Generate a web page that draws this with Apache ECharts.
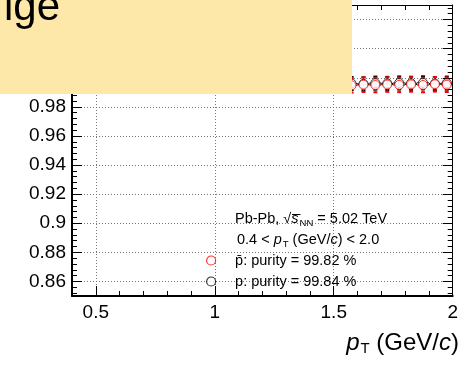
<!DOCTYPE html>
<html>
<head>
<meta charset="utf-8">
<script src="https://cdn.jsdelivr.net/npm/echarts@6/dist/echarts.min.js"></script>
<style>
  html, body { margin: 0; padding: 0; background: #fff; }
  #chart { width: 461px; height: 365px; }
</style>
</head>
<body>
<div id="chart"></div>
<script>
// pT bin centres (GeV/c) and half bin width
const ptBins = [1.575, 1.625, 1.675, 1.725, 1.775, 1.825, 1.875, 1.925, 1.975];
const binHalfWidth = 0.025;

// proton purity per bin with uncertainties
const protonVals = [0.9960, 0.9958, 0.9963, 0.9961, 0.9964, 0.9962, 0.9965, 0.9960, 0.9963];
const protonErrs = [0.0045, 0.0045, 0.0045, 0.0045, 0.0045, 0.0045, 0.0045, 0.0045, 0.0045];

// antiproton purity per bin with uncertainties
const antiprotonVals = [0.9948, 0.9952, 0.9950, 0.9953, 0.9951, 0.9954, 0.9950, 0.9955, 0.9952];
const antiprotonErrs = [0.0050, 0.0050, 0.0050, 0.0050, 0.0050, 0.0050, 0.0050, 0.0050, 0.0050];

// axis ranges and tick labels
const xRange = [0.4, 2.0];
const yRange = [0.85, 1.05];
const xMajorTicks = [0.5, 1.0, 1.5, 2.0];
const yMajorTicks = [0.86, 0.88, 0.90, 0.92, 0.94, 0.96, 0.98, 1.00, 1.02, 1.04];

const antiprotonLabel = 'p\u0304: purity = 99.82 %';
const protonLabel = 'p: purity = 99.84 %';

// minor tick positions between the labelled ticks
const xMinorTicks = [];
for (let i = 5; i < 20; i++) { if (i % 5 !== 0) xMinorTicks.push(+(i / 10).toFixed(1)); }
const yMinorTicks = [];
for (let i = 213; i <= 262; i++) { if (i % 5 !== 0) yMinorTicks.push(+(i * 0.004).toFixed(3)); }

const FONT = '"Liberation Sans", Arial, Helvetica, sans-serif';
const RED = '#ff0000';
const GRID = { type: [1, 2], color: '#777', width: 1 };

function axisBase(kind, position, ticks, len, opts) {
  const range = kind === 'x' ? xRange : yRange;
  return Object.assign({
    type: 'value', gridIndex: 0, position: position,
    min: range[0], max: range[1],
    axisLine: { show: false },
    axisTick: { show: true, inside: true, length: len, customValues: ticks,
                lineStyle: { color: '#000', width: 1 } },
    axisLabel: { show: false },
    splitLine: { show: false }
  }, opts || {});
}

const fmt = v => (+v.toFixed(2)).toString();

const xAxes = [
  axisBase('x', 'bottom', xMajorTicks, 10, {
    axisLine: { show: true, onZero: false, lineStyle: { color: '#000', width: 2 } },
    axisLabel: { show: true, customValues: xMajorTicks, formatter: fmt, margin: 7,
                 color: '#000', fontSize: 19, fontFamily: FONT },
    splitLine: { show: true, lineStyle: GRID }
  }),
  axisBase('x', 'bottom', xMinorTicks, 5),
  axisBase('x', 'top', xMajorTicks, 10, {
    axisLine: { show: true, onZero: false, lineStyle: { color: '#000', width: 1 } }
  }),
  axisBase('x', 'top', xMinorTicks, 5)
];

const yAxes = [
  axisBase('y', 'left', yMajorTicks, 10, {
    axisLine: { show: true, onZero: false, lineStyle: { color: '#000', width: 2 } },
    axisLabel: { show: true, customValues: yMajorTicks, formatter: fmt, margin: 6,
                 color: '#000', fontSize: 19, fontFamily: FONT },
    splitLine: { show: true, lineStyle: GRID }
  }),
  axisBase('y', 'left', yMinorTicks, 5),
  axisBase('y', 'right', yMajorTicks, 10, {
    axisLine: { show: true, onZero: false, lineStyle: { color: '#000', width: 1 } }
  }),
  axisBase('y', 'right', yMinorTicks, 5)
];

// vertical uncertainty with caps plus the horizontal bin-width bar
function errorBars(color) {
  return function (params, api) {
    const x = api.value(0), y = api.value(1), e = api.value(2);
    const c = api.coord([x, y]);
    const top = api.coord([x, y + e]);
    const bot = api.coord([x, y - e]);
    const l = api.coord([x - binHalfWidth, y]);
    const r = api.coord([x + binHalfWidth, y]);
    const cap = 2;
    const st = { stroke: color, lineWidth: 1 };
    const capSt = { stroke: color, lineWidth: 2 };
    return {
      type: 'group',
      children: [
        { type: 'line', shape: { x1: c[0], y1: top[1], x2: c[0], y2: bot[1] }, style: st },
        { type: 'line', shape: { x1: c[0] - cap, y1: top[1], x2: c[0] + cap, y2: top[1] }, style: capSt },
        { type: 'line', shape: { x1: c[0] - cap, y1: bot[1], x2: c[0] + cap, y2: bot[1] }, style: capSt },
        { type: 'line', shape: { x1: l[0], y1: c[1], x2: r[0], y2: c[1] }, style: { stroke: '#000', lineWidth: 1 } }
      ]
    };
  };
}

const protonData = ptBins.map((x, i) => [x, protonVals[i], protonErrs[i]]);
const antiprotonData = ptBins.map((x, i) => [x, antiprotonVals[i], antiprotonErrs[i]]);

const TXT = 14.5;
const richInfo = {
  it: { fontStyle: 'italic', fontSize: TXT, fontFamily: FONT, fill: '#000' },
  sub: { fontSize: 9.5, fontFamily: FONT, fill: '#000', padding: [8, 0, 0, 1] }
};

const chart = echarts.init(document.getElementById('chart'), null, { renderer: 'canvas' });
chart.setOption({
  animation: false,
  backgroundColor: '#fff',
  grid: { left: 72, right: 4, top: 5, bottom: 69, containLabel: false },
  xAxis: xAxes,
  yAxis: yAxes,
  legend: {
    orient: 'vertical', left: 206, top: 253, padding: 0,
    itemWidth: 38, itemHeight: 9, itemGap: 6,
    selectedMode: false,
    itemStyle: { borderWidth: 1.2 },
    textStyle: { fontSize: TXT, color: '#000', fontFamily: FONT },
    data: [antiprotonLabel, protonLabel]
  },
  series: [
    { type: 'custom', name: 'pErr', xAxisIndex: 0, yAxisIndex: 0, data: protonData,
      renderItem: errorBars('#000'), encode: { x: 0, y: 1 }, z: 2 },
    { type: 'custom', name: 'pbarErr', xAxisIndex: 0, yAxisIndex: 0, data: antiprotonData,
      renderItem: errorBars(RED), encode: { x: 0, y: 1 }, z: 2 },
    { type: 'scatter', name: protonLabel, xAxisIndex: 0, yAxisIndex: 0,
      data: protonData.map(d => [d[0], d[1]]),
      symbol: 'circle', symbolSize: 9,
      itemStyle: { color: '#fff', borderColor: '#000', borderWidth: 1 }, z: 3 },
    { type: 'scatter', name: antiprotonLabel, xAxisIndex: 0, yAxisIndex: 0,
      data: antiprotonData.map(d => [d[0], d[1]]),
      symbol: 'circle', symbolSize: 9,
      itemStyle: { color: '#fff', borderColor: RED, borderWidth: 1 }, z: 4 }
  ],
  graphic: [
    { type: 'rect', z: 100, shape: { x: 0, y: 0, width: 352, height: 94 },
      style: { fill: '#fde7a9' } },
    { type: 'text', z: 101, x: 4, y: 8,
      style: { text: 'ige', fontSize: 42, fontFamily: FONT, fill: '#000', verticalAlign: 'middle' } },
    { type: 'text', z: 101, x: 235, y: 219,
      style: { text: 'Pb-Pb, \u221A{it|s\u0305}{sub|NN} = 5.02 TeV', fontSize: TXT, fontFamily: FONT,
               fill: '#000', verticalAlign: 'middle', rich: richInfo } },
    { type: 'text', z: 101, x: 237, y: 240,
      style: { text: '0.4 < {it|p}{sub|T} (GeV/{it|c}) < 2.0', fontSize: TXT, fontFamily: FONT,
               fill: '#000', verticalAlign: 'middle', rich: richInfo } },
    { type: 'text', z: 101, x: 459, y: 343,
      style: { text: '{it|p}{sub|T} (GeV/{it|c})', fontSize: 24, fontFamily: FONT, fill: '#000',
               align: 'right', verticalAlign: 'middle',
               rich: {
                 it: { fontStyle: 'italic', fontSize: 24, fontFamily: FONT, fill: '#000' },
                 sub: { fontSize: 15, fontFamily: FONT, fill: '#000', padding: [12, 0, 0, 1] }
               } } }
  ]
});
</script>
</body>
</html>
